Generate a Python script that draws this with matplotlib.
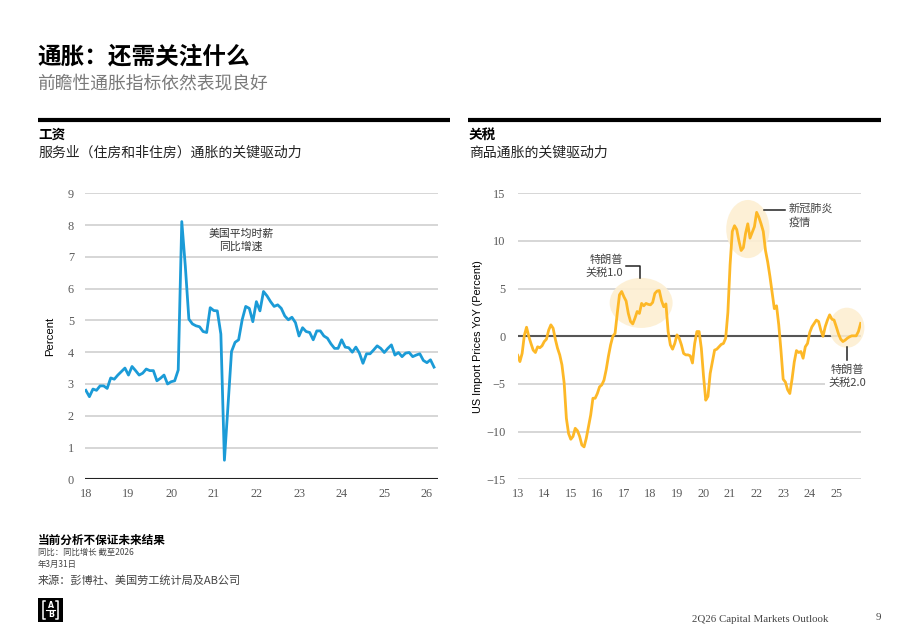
import numpy as np
import matplotlib.pyplot as plt
from matplotlib.patches import Ellipse, Rectangle
from matplotlib.lines import Line2D

plt.rcParams['font.family'] = ['Noto Sans CJK SC', 'DejaVu Sans']

# average hourly earnings, YoY %, monthly from Jan 2018
wage_start = 18
wage_yoy = [
    2.80, 2.60, 2.84, 2.80, 2.94, 2.94, 2.86, 3.19, 3.15, 3.28, 3.39, 3.50,  # 18
    3.28, 3.55, 3.42, 3.28, 3.34, 3.47, 3.42, 3.42, 3.10, 3.18, 3.28, 3.00,  # 19
    3.07, 3.10, 3.44, 8.11, 6.70, 5.04, 4.89, 4.83, 4.80, 4.65, 4.62, 5.40,  # 20
    5.31, 5.30, 4.57, 0.60, 2.30, 4.02, 4.31, 4.39, 5.02, 5.44, 5.38, 4.96,  # 21
    5.59, 5.30, 5.91, 5.77, 5.59, 5.44, 5.49, 5.38, 5.14, 5.02, 5.10, 4.93,  # 22
    4.51, 4.77, 4.65, 4.62, 4.39, 4.67, 4.67, 4.51, 4.44, 4.26, 4.12, 4.12,  # 23
    4.39, 4.16, 4.14, 4.00, 4.16, 3.97, 3.65, 3.95, 3.95, 4.07, 4.20, 4.12,  # 24
    3.99, 4.12, 4.23, 3.91, 3.99, 3.86, 3.97, 3.99, 3.86, 3.91, 3.95, 3.74,  # 25
    3.67, 3.76, 3.53,                                                        # 26
]

# US import prices, YoY %, monthly from Jan 2013
import_start = 13
import_yoy = [
    -2.0, -2.65, -1.8, 0.1, 0.95, 0.0, -0.75, -1.45, -1.7, -1.1, -1.2, -1.0,     # 13
    -0.55, -0.3, 0.65, 1.2, 0.85, -0.3, -1.25, -1.95, -3.0, -4.9, -8.6, -10.2,   # 14
    -10.8, -10.5, -9.65, -9.9, -10.5, -11.4, -11.6, -10.7, -9.5, -8.25, -6.5, -6.5,  # 15
    -6.0, -5.3, -5.1, -4.6, -3.5, -2.1, -0.9, 0.0, 0.3, 2.4, 4.35, 4.7,          # 16
    4.15, 3.7, 2.4, 1.55, 1.3, 1.9, 2.6, 2.4, 3.45, 3.2, 3.45, 3.35,             # 17
    3.3, 3.55, 4.5, 4.75, 4.8, 3.75, 3.1, 3.4, 0.5, -0.9, -1.35, -0.75,          # 18
    0.15, -0.2, -0.9, -1.8, -1.95, -1.95, -2.05, -2.8, -0.75, 0.5, 0.5, -1.25,   # 19
    -4.2, -6.7, -6.3, -3.9, -2.65, -1.45, -1.35, -1.1, -0.85, -0.75, -0.2, 2.5,  # 20
    7.5, 11.0, 11.6, 11.2, 10.0, 9.0, 9.3, 10.8, 11.8, 10.3, 10.9, 11.5,         # 21
    13.0, 12.5, 11.8, 11.0, 9.0, 7.8, 6.3, 4.6, 2.9, 3.2, 1.2, -1.5,             # 22
    -4.5, -4.8, -5.6, -6.0, -4.5, -2.7, -1.5, -1.7, -1.6, -2.3, -1.1, -0.75,     # 23
    0.4, 1.0, 1.35, 1.7, 1.55, 0.65, 0.0, 1.0, 1.7, 2.25, 1.8, 1.7,              # 24
    1.0, 0.25, -0.3, -0.55, -0.4, -0.2, -0.05, 0.05, 0.05, 0.05, 0.5, 1.35,      # 25
]

wage_xticks = list(range(18, 27))
wage_yticks = list(range(0, 10))
import_xticks = list(range(13, 26))
import_yticks = [-15, -10, -5, 0, 5, 10, 15]

BLUE = '#1B9BD7'
GOLD = '#FDB827'
GRID = '#CFCFCF'
TICK = '#5a5a5a'
TICKFONT = 'Liberation Serif'

W, H = 920, 637
fig = plt.figure(figsize=(9.2, 6.37), dpi=100)


def fx(px):
    return px / W


def fy(py):
    return 1 - py / H


# header
fig.text(fx(37), fy(56), '通胀：还需关注什么', fontsize=17, weight='bold', va='center')
fig.text(fx(37), fy(83), '前瞻性通胀指标依然表现良好', fontsize=12.8, color='#7a7a7a', va='center')

for x0, x1 in [(38, 450), (468, 881)]:
    fig.add_artist(Line2D([fx(x0), fx(x1)], [fy(119.5), fy(119.5)], color='black', lw=3,
                          solid_capstyle='butt'))

fig.text(fx(38), fy(135), '工资', fontsize=9.8, weight='bold', va='center')
fig.text(fx(38), fy(152.5), '服务业（住房和非住房）通胀的关键驱动力', fontsize=10, color='#222222', va='center')
fig.text(fx(469), fy(135), '关税', fontsize=9.8, weight='bold', va='center')
fig.text(fx(469), fy(152.5), '商品通胀的关键驱动力', fontsize=10, color='#222222', va='center')


def style_axes(ax):
    for s in ax.spines.values():
        s.set_visible(False)
    ax.tick_params(length=0, labelsize=8.8, labelcolor=TICK)
    for lab in ax.get_xticklabels() + ax.get_yticklabels():
        lab.set_family(TICKFONT)
    ax.set_facecolor('none')


# left chart: wages
ax1 = fig.add_axes([fx(85), fy(479.3), fx(438) - fx(85), fy(193.3) - fy(479.3)])
wx = wage_start + np.arange(len(wage_yoy)) / 12
for v in wage_yticks[1:]:
    ax1.axhline(v, color=GRID, lw=1.2, zorder=1)
ax1.axhline(0, color='#222222', lw=1.5, zorder=2)
ax1.plot(wx, wage_yoy, color=BLUE, lw=2.0, zorder=3)
ax1.set_xlim(17.98, 26.26)
ax1.set_ylim(0, 9)
ax1.set_xticks(wage_xticks)
ax1.set_yticks(wage_yticks)
ax1.set_xticklabels([str(t) for t in wage_xticks])
ax1.set_yticklabels([str(t) for t in wage_yticks])
ax1.tick_params(axis='y', pad=8)
ax1.tick_params(axis='x', pad=6)
style_axes(ax1)
ax1.set_ylabel('Percent', fontsize=8.2, family='Liberation Sans', labelpad=9)
ax1.text(21.64, 7.52, '美国平均时薪\n同比增速', ha='center', va='center', fontsize=7.8,
         color='#333333', linespacing=1.35)

# right chart: import prices
ax2 = fig.add_axes([fx(517.7), fy(479.3), fx(861.5) - fx(517.7), fy(193.3) - fy(479.3)])
ix = import_start + np.arange(len(import_yoy)) / 12
for v in import_yticks:
    if v != 0:
        ax2.axhline(v, color=GRID, lw=1.2, zorder=1)
ax2.axhline(0, color='#555555', lw=1.5, zorder=2)

ellipse_kw = dict(facecolor='#FDEFD2', edgecolor='none', alpha=0.9, zorder=2.5, clip_on=False)
ax2.add_patch(Ellipse((17.65, 3.5), 2.37, 5.25, **ellipse_kw))
ax2.add_patch(Ellipse((21.67, 11.25), 1.63, 6.1, **ellipse_kw))
ax2.add_patch(Ellipse((25.4, 0.9), 1.32, 4.2, **ellipse_kw))

ax2.plot(ix, import_yoy, color=GOLD, lw=2.0, zorder=3)
ax2.set_xlim(13, 25.95)
ax2.set_ylim(-15, 15)
ax2.set_xticks(import_xticks)
ax2.set_yticks(import_yticks)
ax2.set_xticklabels([str(t) for t in import_xticks])
ax2.set_yticklabels([('\u2212' + str(-t)) if t < 0 else str(t) for t in import_yticks])
ax2.tick_params(axis='y', pad=9)
ax2.tick_params(axis='x', pad=6)
style_axes(ax2)
ax2.set_ylabel('US Import Prices YoY (Percent)', fontsize=7.8, family='Liberation Sans', labelpad=2)

ann_color = '#444444'
# tariff 1.0
ax2.plot([17.08, 17.61, 17.61], [7.37, 7.37, 6.15], color='#222222', lw=1.1, zorder=4)
ax2.text(16.98, 7.37, '特朗普\n关税1.0', ha='right', va='center', fontsize=8, color=ann_color,
         linespacing=1.35)
# covid
ax2.plot([22.28, 23.05], [13.3, 13.3], color='#222222', lw=1.1, zorder=4)
ax2.text(23.2, 12.7, '新冠肺炎\n疫情', ha='left', va='center', fontsize=8, color=ann_color,
         linespacing=1.35)
# tariff 2.0
ax2.plot([25.4, 25.4], [-1.1, -2.5], color='#222222', lw=1.1, zorder=4)
ax2.text(25.4, -4.2, '特朗普\n关税2.0', ha='center', va='center', fontsize=8, color=ann_color,
         linespacing=1.35, zorder=5, clip_on=False,
         bbox=dict(facecolor='white', edgecolor='none', pad=2))

# footer notes
fig.text(fx(38), fy(540), '当前分析不保证未来结果', fontsize=8.4, weight='bold', va='center')
fig.text(fx(38), fy(552), '同比：同比增长 截至2026', fontsize=6, color='#444444', va='center')
fig.text(fx(38), fy(564), '年3月31日', fontsize=6, color='#444444', va='center')
fig.text(fx(38), fy(580), '来源：彭博社、美国劳工统计局及AB公司', fontsize=8, color='#444444', va='center')

fig.text(fx(692), fy(619), '2Q26 Capital Markets Outlook', fontsize=7.8, family=TICKFONT,
         color='#444444', va='center')
fig.text(fx(878), fy(618), '9', fontsize=7.8, family=TICKFONT, color='#444444', va='center', ha='center')

# AB logo
fig.add_artist(Rectangle((fx(38.5), fy(622)), fx(24.5), fy(597.5) - fy(622), facecolor='black',
                         edgecolor='none', transform=fig.transFigure))
for xs in [(43, 43, 45.5), (58.5, 58.5, 56)]:
    fig.add_artist(Line2D([fx(xs[2]), fx(xs[0]), fx(xs[1]), fx(xs[2])],
                          [fy(601), fy(601), fy(618.5), fy(618.5)], color='white', lw=1.1))
fig.add_artist(Line2D([fx(46.5), fx(55)], [fy(609.8), fy(609.8)], color='white', lw=0.8))
fig.text(fx(50.8), fy(605.6), 'A', fontsize=5.6, weight='bold', color='white', ha='center',
         va='center', family='DejaVu Sans')
fig.text(fx(50.8), fy(614.3), 'B', fontsize=5.6, weight='bold', color='white', ha='center',
         va='center', family='DejaVu Sans')

fig.savefig('out.png', dpi=100)
